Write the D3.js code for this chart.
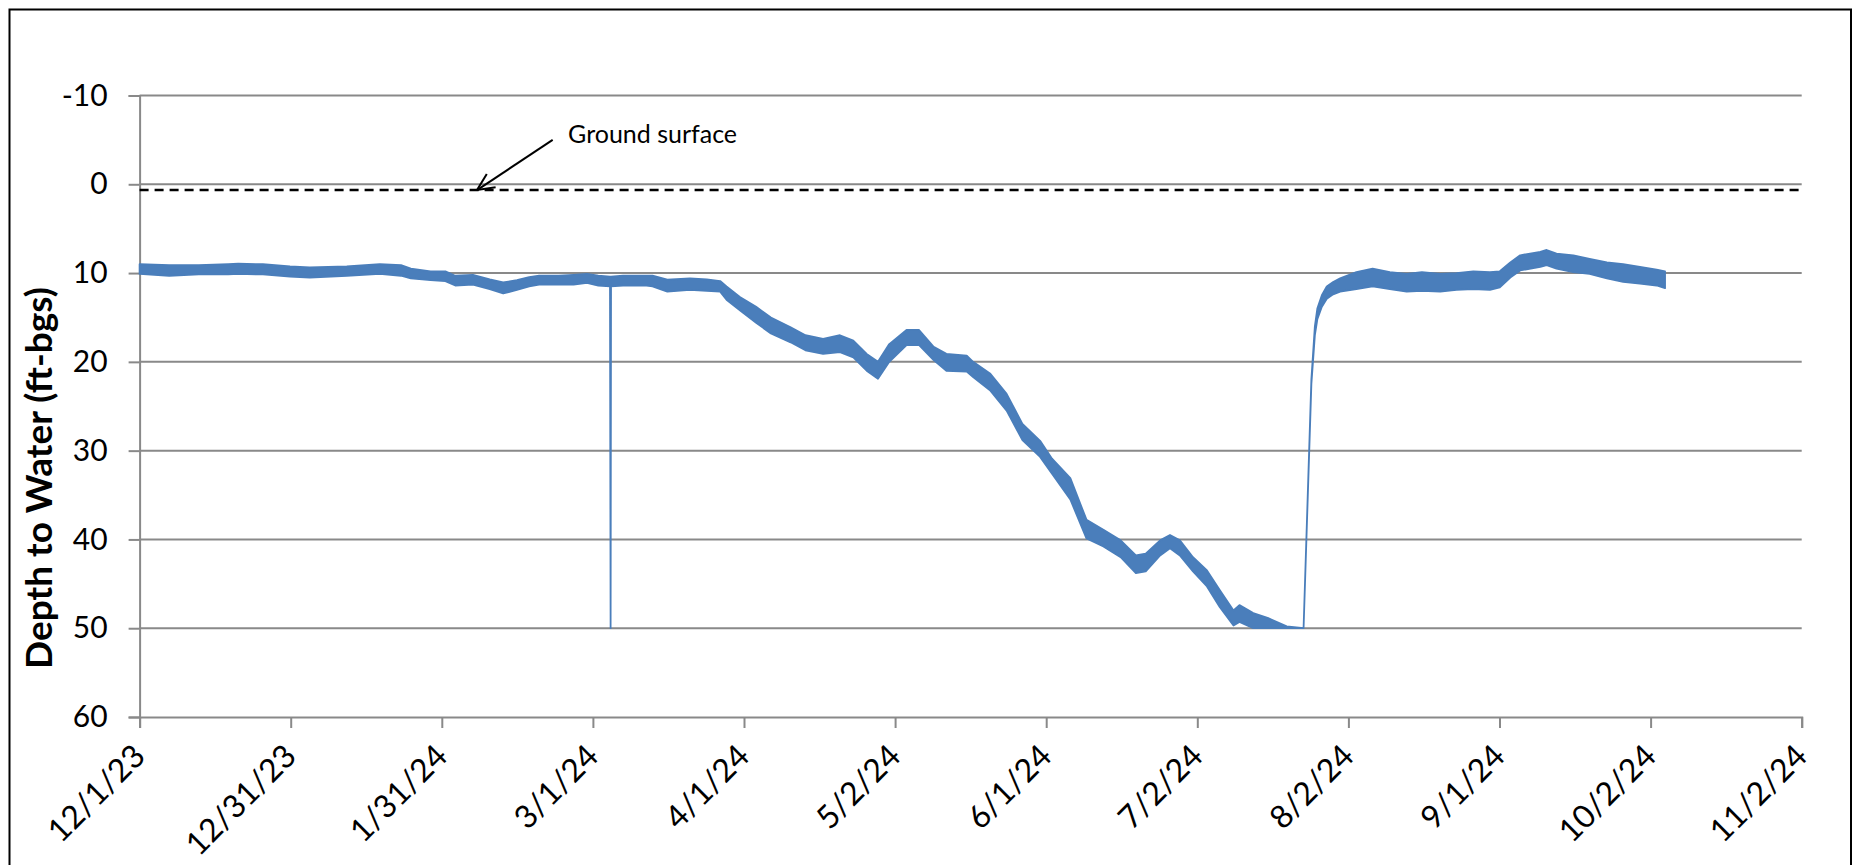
<!DOCTYPE html>
<html>
<head>
<meta charset="utf-8">
<script src="https://cdn.jsdelivr.net/npm/d3@7"></script>
<style>
  body { margin: 0; background: #ffffff; }
  svg { display: block; }
  text { font-family: Lato, "Open Sans", sans-serif; fill: #000; }
</style>
</head>
<body>
<svg id="chart" width="1855" height="865"></svg>
<script>
// ---------------- data ----------------
const xTickLabels = ["12/1/23","12/31/23","1/31/24","3/1/24","4/1/24","5/2/24","6/1/24","7/2/24","8/2/24","9/1/24","10/2/24","11/2/24"];
const yTickValues = [-10, 0, 10, 20, 30, 40, 50, 60];
const yAxisTitle = "Depth to Water (ft-bgs)";

// reading times, shallowest (daily min) and deepest (daily max) depth to water, ft-bgs
const readingTimes = [
  "2023-12-01 00:00","2023-12-07 00:00","2023-12-13 00:00","2023-12-19 00:00","2023-12-21 00:00","2023-12-26 00:00",
  "2023-12-31 12:00","2024-01-04 12:00","2024-01-12 00:00","2024-01-18 17:00","2024-01-23 00:00","2024-01-25 00:00",
  "2024-01-29 00:00","2024-02-01 00:00","2024-02-03 00:00","2024-02-06 14:00","2024-02-10 00:00","2024-02-12 17:00",
  "2024-02-15 12:00","2024-02-18 00:00","2024-02-20 00:00","2024-02-24 00:00","2024-02-27 00:00","2024-02-29 17:00",
  "2024-03-03 00:00","2024-03-05 09:00","2024-03-05 12:00","2024-03-05 14:00","2024-03-08 00:00","2024-03-12 19:00",
  "2024-03-14 00:00","2024-03-17 00:00","2024-03-21 14:00","2024-03-25 00:00","2024-03-27 17:00","2024-03-29 00:00",
  "2024-03-31 17:00","2024-04-04 00:00","2024-04-07 00:00","2024-04-11 00:00","2024-04-14 00:00","2024-04-17 14:00",
  "2024-04-21 00:00","2024-04-23 17:00","2024-04-26 10:00","2024-04-28 17:00","2024-05-01 00:00","2024-05-04 12:00",
  "2024-05-07 00:00","2024-05-10 00:00","2024-05-12 14:00","2024-05-16 17:00","2024-05-18 00:00","2024-05-21 10:00",
  "2024-05-24 19:00","2024-05-28 00:00","2024-05-31 14:00","2024-06-03 00:00","2024-06-06 17:00","2024-06-10 00:00",
  "2024-06-13 10:00","2024-06-16 22:00","2024-06-20 00:00","2024-06-22 00:00","2024-06-24 22:00","2024-06-26 22:00",
  "2024-06-28 22:00","2024-07-01 14:00","2024-07-04 10:00","2024-07-07 00:00","2024-07-09 19:00","2024-07-11 00:00",
  "2024-07-13 19:00","2024-07-17 00:00","2024-07-20 14:00","2024-07-24 00:00","2024-07-25 14:00","2024-07-26 07:00",
  "2024-07-26 19:00","2024-07-27 17:00","2024-07-28 17:00","2024-07-30 00:00","2024-07-31 10:00","2024-08-03 17:00",
  "2024-08-07 00:00","2024-08-10 12:00","2024-08-13 22:00","2024-08-17 00:00","2024-08-20 17:00","2024-08-24 00:00",
  "2024-08-27 10:00","2024-08-30 19:00","2024-09-01 19:00","2024-09-03 22:00","2024-09-05 22:00","2024-09-10 00:00",
  "2024-09-11 07:00","2024-09-13 07:00","2024-09-16 17:00","2024-09-20 00:00","2024-09-23 12:00","2024-09-26 19:00",
  "2024-09-30 05:00","2024-10-03 14:00","2024-10-05 07:00"
];
const shallowDepth = [
  9.0, 9.1, 9.1, 9.0, 8.95, 9.0,
  9.25, 9.35, 9.25, 9.0, 9.1, 9.5,
  9.8, 9.8, 10.3, 10.2, 10.7, 11.05,
  10.8, 10.45, 10.3, 10.3, 10.2, 10.1,
  10.3, 10.4, 10.4, 10.4, 10.3, 10.3,
  10.3, 10.75, 10.6, 10.7, 10.9, 11.5,
  12.7, 13.8, 15.0, 16.1, 17.0, 17.4,
  17.0, 17.6, 19.1, 20.0, 18.0, 16.4,
  16.4, 18.3, 19.1, 19.3, 20.0, 21.3,
  23.6, 27.0, 28.9, 30.9, 33.1, 37.8,
  38.9, 40.1, 41.8, 41.6, 40.1, 39.5,
  40.1, 42.0, 43.5, 45.7, 48.0, 47.4,
  48.3, 48.9, 49.8, 50.0, 22.0, 16.0,
  14.0, 12.5, 11.5, 11.0, 10.6, 9.9,
  9.5, 9.9, 10.1, 9.9, 10.1, 10.0,
  9.8, 9.9, 9.8, 8.8, 8.0, 7.6,
  7.4, 7.8, 8.0, 8.4, 8.8, 9.0,
  9.3, 9.6, 9.8
];
const deepDepth = [
  10.1, 10.3, 10.15, 10.15, 10.1, 10.15,
  10.4, 10.5, 10.3, 10.1, 10.3, 10.6,
  10.8, 10.9, 11.4, 11.3, 11.8, 12.3,
  11.9, 11.5, 11.3, 11.3, 11.3, 11.1,
  11.4, 11.5, 50.0, 11.5, 11.4, 11.4,
  11.5, 12.1, 11.9, 12.0, 12.1, 13.0,
  14.2, 15.6, 16.8, 17.8, 18.7, 19.1,
  18.9, 19.5, 21.0, 21.9, 20.0, 18.1,
  18.1, 19.8, 21.0, 21.1, 21.7, 23.2,
  25.5, 28.8, 30.7, 32.6, 35.5, 39.9,
  40.8, 42.0, 43.8, 43.6, 41.8, 41.0,
  41.8, 43.6, 45.3, 47.6, 49.7, 49.3,
  50.0, 50.0, 50.0, 50.0, 22.5, 17.0,
  15.2, 13.8, 12.9, 12.4, 12.1, 11.8,
  11.5, 11.8, 12.1, 12.0, 12.1, 11.9,
  11.8, 11.9, 11.6, 10.5, 9.7, 9.3,
  9.1, 9.5, 9.9, 10.1, 10.6, 11.0,
  11.2, 11.4, 11.7
];

const groundSurfaceDepth = 0.65;
const annotationLabel = "Ground surface";
const annotationTip = { time: "2024-02-07 10:00", depth: groundSurfaceDepth };
const annotationTail = { time: "2024-02-22 18:00", depth: -5.0 };
const annotationText = { time: "2024-02-25 21:00", depth: -4.7 };

// ---------------- layout ----------------
const W = 1855, H = 865;
const plot = { left: 139.6, right: 1801.7, top: 95.5, bottom: 717 };
const gridColor = "#898989";
const seriesColor = "#4A7EBB";

const parseTick = d3.timeParse("%m/%d/%y");
const parseTime = d3.timeParse("%Y-%m-%d %H:%M");

const t0 = parseTick(xTickLabels[0]);
const t1 = parseTick(xTickLabels[xTickLabels.length - 1]);
const x = d3.scaleTime().domain([t0, t1]).range([plot.left, plot.right]);
const y = d3.scaleLinear().domain([yTickValues[0], yTickValues[yTickValues.length - 1]]).range([plot.top, plot.bottom]);

// Excel-style equally spaced date ticks
const tickTimes = xTickLabels.map((_, i) => new Date(+t0 + i * (t1 - t0) / (xTickLabels.length - 1)));

const data = readingTimes.map((t, i) => ({ t: parseTime(t), shallow: shallowDepth[i], deep: deepDepth[i] }));

const svg = d3.select("#chart");

// outer border (chart area frame)
const frame = svg.append("g").attr("stroke", "#000").attr("stroke-width", 2).attr("fill", "none");
frame.append("path").attr("d", `M9.5,${H + 5} V9.5 H1851 V${H + 5}`);

// gridlines
svg.append("g")
  .selectAll("line")
  .data(yTickValues.slice(0, -1))
  .join("line")
  .attr("x1", plot.left).attr("x2", plot.right)
  .attr("y1", d => y(d)).attr("y2", d => y(d))
  .attr("stroke", gridColor).attr("stroke-width", 2);

// y axis
const yAxis = svg.append("g")
  .attr("transform", `translate(${plot.left},0)`)
  .call(d3.axisLeft(y).tickValues(yTickValues).tickSize(11).tickPadding(21).tickFormat(d3.format("d")));
yAxis.select(".domain").attr("stroke", gridColor).attr("stroke-width", 2);
yAxis.selectAll(".tick line").attr("stroke", gridColor).attr("stroke-width", 2);
yAxis.selectAll(".tick text")
  .attr("font-size", 30).attr("font-family", "Lato, sans-serif").attr("fill", "#000")
  .text(d => d < 0 ? "-" + Math.abs(d) : d);

// x axis
const xAxis = svg.append("g")
  .attr("transform", `translate(0,${plot.bottom})`)
  .call(d3.axisBottom(x).tickValues(tickTimes).tickSize(11).tickFormat((d, i) => xTickLabels[i]));
xAxis.select(".domain").attr("stroke", gridColor).attr("stroke-width", 2);
xAxis.selectAll(".tick line").attr("stroke", gridColor).attr("stroke-width", 2);
xAxis.selectAll(".tick text")
  .attr("font-size", 32).attr("font-family", "Lato, sans-serif").attr("fill", "#000")
  .attr("text-anchor", "end")
  .attr("dy", null).attr("y", null)
  .attr("transform", "translate(7,41) rotate(-45)");

// y axis title
svg.append("text")
  .attr("transform", `translate(52,478) rotate(-90)`)
  .attr("text-anchor", "middle")
  .attr("font-size", 37).attr("font-weight", "bold")
  .text(yAxisTitle);

// ground surface dashed line
svg.append("line")
  .attr("x1", plot.left).attr("x2", plot.right)
  .attr("y1", y(groundSurfaceDepth)).attr("y2", y(groundSurfaceDepth))
  .attr("stroke", "#000").attr("stroke-width", 2.5)
  .attr("stroke-dasharray", "9,6");

// series band (daily range) + thin transitions
const area = d3.area()
  .x(d => x(d.t))
  .y0(d => y(d.shallow))
  .y1(d => y(d.deep));
svg.append("path")
  .datum(data)
  .attr("d", area)
  .attr("fill", seriesColor)
  .attr("stroke", seriesColor)
  .attr("stroke-width", 1.8)
  .attr("stroke-linejoin", "round");

// annotation arrow
const tipX = x(parseTime(annotationTip.time)), tipY = y(annotationTip.depth);
const tailX = x(parseTime(annotationTail.time)), tailY = y(annotationTail.depth);
svg.append("defs").append("marker")
  .attr("id", "openArrow")
  .attr("viewBox", "0 0 20 20").attr("refX", 19).attr("refY", 10)
  .attr("markerWidth", 20).attr("markerHeight", 20).attr("markerUnits", "userSpaceOnUse")
  .attr("orient", "auto")
  .append("path")
  .attr("d", "M2,2 L19,10 L2,18")
  .attr("fill", "none").attr("stroke", "#000").attr("stroke-width", 2);
svg.append("line")
  .attr("x1", tailX).attr("y1", tailY).attr("x2", tipX).attr("y2", tipY)
  .attr("stroke", "#000").attr("stroke-width", 2)
  .attr("marker-end", "url(#openArrow)");
svg.append("text")
  .attr("x", x(parseTime(annotationText.time)))
  .attr("y", y(annotationText.depth))
  .attr("font-size", 25)
  .text(annotationLabel);
</script>
</body>
</html>
